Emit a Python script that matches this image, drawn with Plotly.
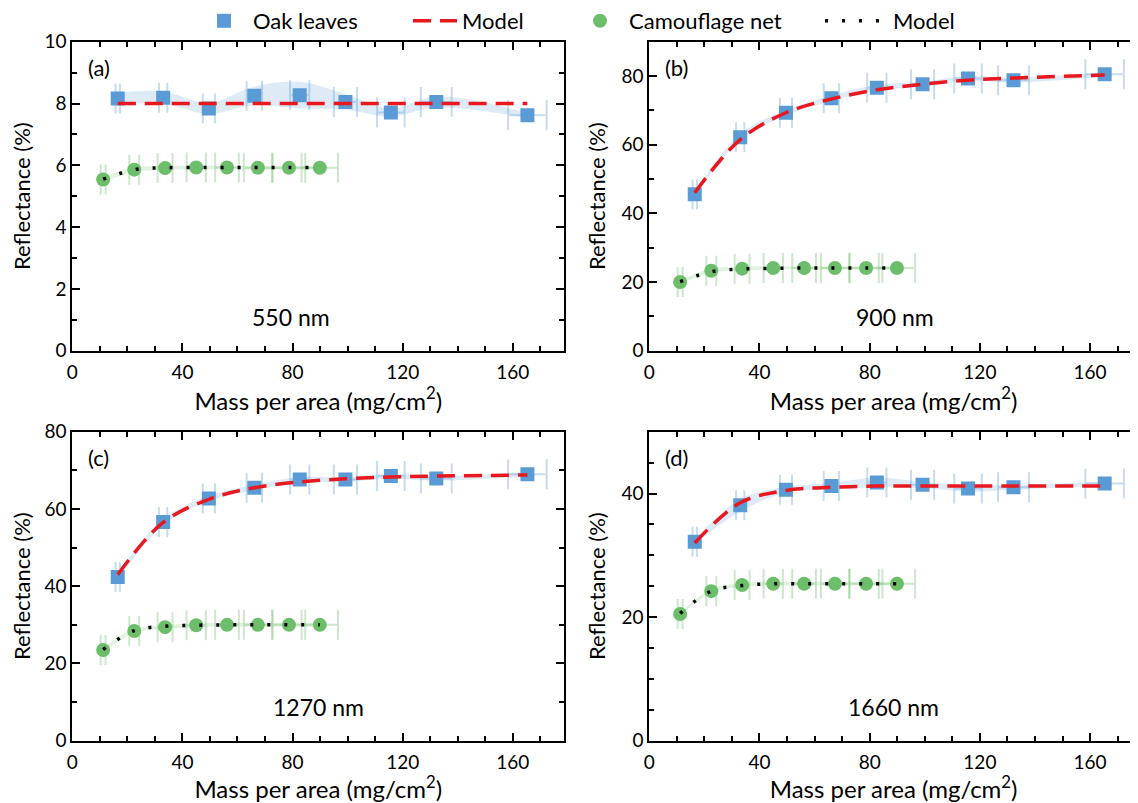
import plotly.graph_objects as go

# ---------------- data ----------------
oak_x = [16.5, 33.0, 49.6, 66.1, 82.6, 99.2, 115.7, 132.2, 165.3]
oak_xerr = [0.8, 1.5, 2.2, 2.8, 3.5, 4.2, 5.0, 5.6, 7.0]
camo_x = [11.2, 22.5, 33.7, 45.0, 56.2, 67.4, 78.7, 89.9]
camo_xerr = [0.9, 1.8, 2.7, 3.5, 4.3, 5.1, 5.9, 6.6]

# 550 nm
oak_550 = [8.16, 8.19, 7.84, 8.25, 8.27, 8.05, 7.71, 8.05, 7.62]
oak_550_sd = [0.2, 0.2, 0.18, 0.3, 0.43, 0.25, 0.13, 0.18, 0.08]
oak_550_model = [8.0, 8.0, 8.0, 8.0, 8.0, 8.0, 8.0, 8.0, 8.0]
camo_550 = [5.54, 5.86, 5.91, 5.93, 5.93, 5.92, 5.92, 5.92]
camo_550_sd = [0.08, 0.08, 0.06, 0.06, 0.06, 0.06, 0.06, 0.06]
camo_550_model = [5.55, 5.86, 5.92, 5.93, 5.93, 5.93, 5.93, 5.93]

# 900 nm
oak_900 = [45.6, 62.2, 69.3, 73.5, 76.6, 77.6, 79.3, 78.8, 80.5]
oak_900_sd = [0.8, 0.9, 0.8, 0.8, 0.8, 0.7, 0.7, 0.7, 0.7]
oak_900_model = [46.0, 61.5, 69.3, 73.3, 76.0, 77.6, 78.8, 79.4, 80.3]
camo_900 = [20.0, 23.3, 23.9, 24.1, 24.1, 24.1, 24.1, 24.1]
camo_900_sd = [0.6, 0.6, 0.5, 0.5, 0.5, 0.5, 0.5, 0.5]
camo_900_model = [20.1, 23.0, 23.8, 24.0, 24.1, 24.1, 24.1, 24.1]

# 1270 nm
oak_1270 = [42.4, 56.6, 62.7, 65.5, 67.6, 67.6, 68.5, 67.9, 69.0]
oak_1270_sd = [0.8, 0.8, 0.7, 0.7, 0.7, 0.6, 0.6, 0.6, 0.6]
oak_1270_model = [43.0, 56.5, 62.5, 65.5, 67.0, 67.8, 68.3, 68.5, 68.8]
camo_1270 = [23.5, 28.4, 29.4, 29.9, 30.0, 30.0, 30.0, 30.0]
camo_1270_sd = [0.5, 0.5, 0.5, 0.5, 0.5, 0.5, 0.5, 0.5]
camo_1270_model = [23.6, 28.5, 29.6, 29.9, 30.0, 30.0, 30.0, 30.0]

# 1660 nm
oak_1660 = [32.2, 38.1, 40.6, 41.2, 41.8, 41.4, 40.8, 41.0, 41.6]
oak_1660_sd = [0.4, 1.0, 0.5, 0.5, 0.8, 0.5, 0.5, 0.4, 0.3]
oak_1660_model = [32.0, 38.5, 40.5, 41.0, 41.2, 41.2, 41.2, 41.2, 41.2]
camo_1660 = [20.5, 24.2, 25.2, 25.4, 25.4, 25.4, 25.4, 25.4]
camo_1660_sd = [0.3, 0.3, 0.3, 0.3, 0.3, 0.3, 0.3, 0.3]
camo_1660_model = [20.6, 24.2, 25.1, 25.4, 25.4, 25.4, 25.4, 25.4]

panel_labels = ["(a)", "(b)", "(c)", "(d)"]
wavelength_labels = ["550 nm", "900 nm", "1270 nm", "1660 nm"]
y_max = [10, 90, 80, 50]
y_dtick = [2, 20, 20, 20]
y_minor = [1, 10, 10, 5]
x_ticks = [0, 40, 80, 120, 160]

panels = [
    (oak_550, oak_550_sd, oak_550_model, camo_550, camo_550_sd, camo_550_model),
    (oak_900, oak_900_sd, oak_900_model, camo_900, camo_900_sd, camo_900_model),
    (oak_1270, oak_1270_sd, oak_1270_model, camo_1270, camo_1270_sd, camo_1270_model),
    (oak_1660, oak_1660_sd, oak_1660_model, camo_1660, camo_1660_sd, camo_1660_model),
]

# ---------------- style ----------------
FONT = "Lato"
BLUE = "#5B9BD5"
GREEN = "#6DBE6A"
RED = "#E8181E"
OFF = 8                      # default page body margin in the written html
W, H = 1138 - OFF, 803 - OFF


def px_x(p):
    return (p - OFF) / W


def px_y(p):
    return 1 - (p - OFF) / H


x_domains = [[px_x(72.3), px_x(564.3)], [px_x(649.3), 1.0]]
x_ranges = [[0, 178.7], [0, 177.4]]
y_domains = [[px_y(350.7), px_y(41.7)], [px_y(740.7), px_y(431.7)]]

fig = go.Figure()

for i, (oy, osd, om, cy, csd, cm) in enumerate(panels):
    xa = "x" if i == 0 else f"x{i+1}"
    ya = "y" if i == 0 else f"y{i+1}"
    show = i == 0
    # oak band
    fig.add_trace(go.Scatter(x=oak_x, y=[a + b for a, b in zip(oy, osd)], xaxis=xa, yaxis=ya,
                             mode="lines", line=dict(width=0, shape="spline", color="rgba(0,0,0,0)"),
                             showlegend=False, hoverinfo="skip"))
    fig.add_trace(go.Scatter(x=oak_x, y=[a - b for a, b in zip(oy, osd)], xaxis=xa, yaxis=ya,
                             mode="lines", line=dict(width=0, shape="spline", color="rgba(0,0,0,0)"),
                             fill="tonexty", fillcolor="rgba(91,155,213,0.20)",
                             showlegend=False, hoverinfo="skip"))
    # camo band
    fig.add_trace(go.Scatter(x=camo_x, y=[a + b for a, b in zip(cy, csd)], xaxis=xa, yaxis=ya,
                             mode="lines", line=dict(width=0, shape="spline", color="rgba(0,0,0,0)"),
                             showlegend=False, hoverinfo="skip"))
    fig.add_trace(go.Scatter(x=camo_x, y=[a - b for a, b in zip(cy, csd)], xaxis=xa, yaxis=ya,
                             mode="lines", line=dict(width=0, shape="spline", color="rgba(0,0,0,0)"),
                             fill="tonexty", fillcolor="rgba(109,190,106,0.20)",
                             showlegend=False, hoverinfo="skip"))
    # oak points
    fig.add_trace(go.Scatter(x=oak_x, y=oy, xaxis=xa, yaxis=ya, mode="markers",
                             name="Oak leaves", showlegend=show, legend="legend",
                             marker=dict(symbol="square", size=14, color=BLUE),
                             error_x=dict(type="data", array=oak_xerr, color="rgba(91,155,213,0.35)",
                                          thickness=2, width=15)))
    fig.add_trace(go.Scatter(x=oak_x, y=om, xaxis=xa, yaxis=ya, mode="lines",
                             name="Model", showlegend=show, legend="legend2",
                             line=dict(color=RED, width=3.5, dash="18px,9px", shape="spline")))
    # camo points
    fig.add_trace(go.Scatter(x=camo_x, y=cy, xaxis=xa, yaxis=ya, mode="markers",
                             name="Camouflage net", showlegend=show, legend="legend3",
                             marker=dict(symbol="circle", size=14, color=GREEN),
                             error_x=dict(type="data", array=camo_xerr, color="rgba(109,190,106,0.35)",
                                          thickness=2, width=15)))
    fig.add_trace(go.Scatter(x=camo_x, y=cm, xaxis=xa, yaxis=ya, mode="lines",
                             name="Model", showlegend=show, legend="legend4",
                             line=dict(color="black", width=3.5, dash="3px,14px", shape="spline")))

layout = {}
for i in range(4):
    col, row = i % 2, i // 2
    xk = "xaxis" if i == 0 else f"xaxis{i+1}"
    yk = "yaxis" if i == 0 else f"yaxis{i+1}"
    xa = "x" if i == 0 else f"x{i+1}"
    ya = "y" if i == 0 else f"y{i+1}"
    common = dict(showline=True, linecolor="black", linewidth=2, mirror="ticks",
                  ticks="inside", ticklen=8, tickwidth=2, tickcolor="black",
                  showgrid=False, zeroline=False, automargin=False,
                  tickfont=dict(family=FONT, size=19, color="black"))
    layout[xk] = dict(common, domain=x_domains[col], range=x_ranges[col], anchor=ya,
                      tickvals=x_ticks, ticklabelstandoff=3,
                      minor=dict(dtick=10, tick0=0, ticks="inside", ticklen=5, tickwidth=2, tickcolor="black"),
                      title=dict(text="Mass per area (mg/cm<sup>2</sup>)", standoff=0,
                                 font=dict(family=FONT, size=24, color="black")))
    layout[yk] = dict(common, domain=y_domains[row], range=[0, y_max[i]], anchor=xa,
                      dtick=y_dtick[i], tick0=0,
                      minor=dict(dtick=y_minor[i], tick0=0, ticks="inside", ticklen=5, tickwidth=2, tickcolor="black"),
                      title=dict(text="Reflectance (%)", standoff=10,
                                 font=dict(family=FONT, size=22, color="black")))

annotations = []
label_x = [0.028, 0.028, 0.028, 0.028]
wl_x = [0.445, 0.503, 0.50, 0.50]
for i in range(4):
    xa = "x" if i == 0 else f"x{i+1}"
    ya = "y" if i == 0 else f"y{i+1}"
    annotations.append(dict(text=panel_labels[i], xref=f"{xa} domain", yref=f"{ya} domain",
                            x=label_x[i], y=0.915, xanchor="left", yanchor="middle", showarrow=False,
                            font=dict(family=FONT, size=22, color="black")))
    annotations.append(dict(text=wavelength_labels[i], xref=f"{xa} domain", yref=f"{ya} domain",
                            x=wl_x[i], y=0.11, xanchor="center", yanchor="middle", showarrow=False,
                            font=dict(family=FONT, size=23, color="black")))

legend_x_px = [195, 408, 571, 820]
legend_itemwidth = [48, 44, 48, 63]
legend_style = {}
for k, name in enumerate(["legend", "legend2", "legend3", "legend4"]):
    legend_style[name] = dict(orientation="h", x=px_x(legend_x_px[k]), y=px_y(21),
                              xanchor="left", yanchor="middle",
                              font=dict(family=FONT, size=22, color="black"),
                              bgcolor="rgba(0,0,0,0)", borderwidth=0,
                              itemwidth=legend_itemwidth[k])

fig.update_layout(
    **layout,
    **legend_style,
    annotations=annotations,
    width=W, height=H, autosize=False,
    margin=dict(l=0, r=0, t=0, b=0, pad=0, autoexpand=False),
    paper_bgcolor="white", plot_bgcolor="white",
    font=dict(family=FONT, color="black"),
)

fig.write_html("out.html")
